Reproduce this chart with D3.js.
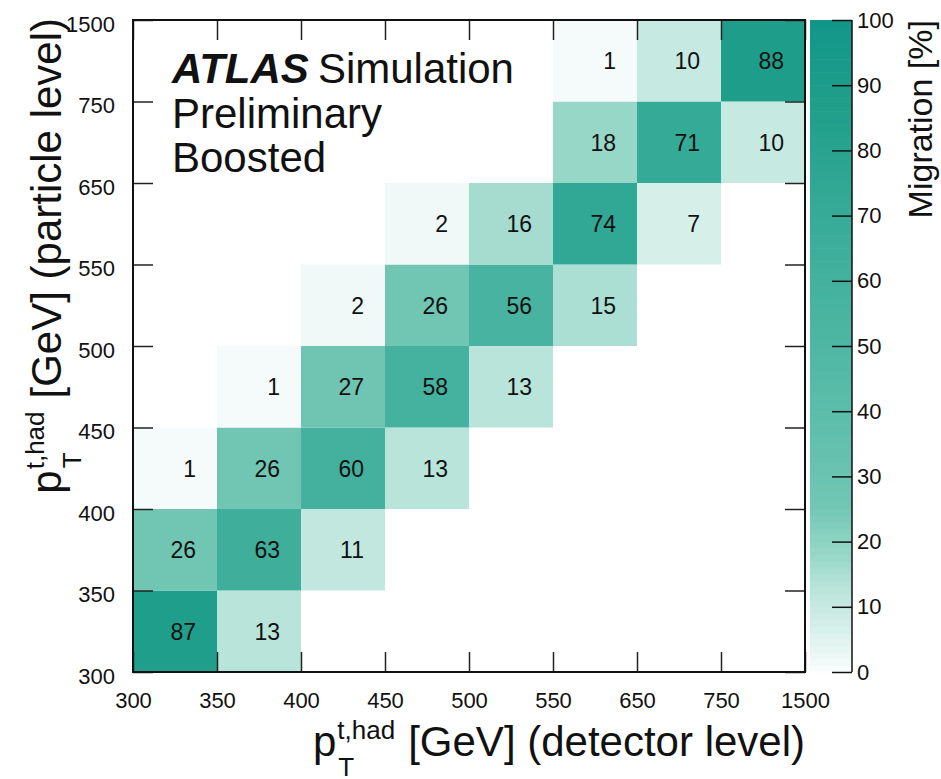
<!DOCTYPE html>
<html>
<head>
<meta charset="utf-8">
<script src="https://cdn.jsdelivr.net/npm/d3@7"></script>
<style>
  html, body { margin: 0; padding: 0; background: #fff; }
  svg { display: block; font-family: "Liberation Sans", Arial, Helvetica, sans-serif; }
</style>
</head>
<body>
<svg id="chart" width="941" height="779"></svg>
<script>
// Bin edges (GeV) for detector level (x) and particle level (y)
const detectorEdges = ["300", "350", "400", "450", "500", "550", "650", "750", "1500"];
const particleEdges = ["300", "350", "400", "450", "500", "550", "650", "750", "1500"];

// Migration matrix [%]: one array per particle-level bin (bottom to top),
// entries indexed by detector-level bin; null = empty cell
const row300_350  = [87, 13, null, null, null, null, null, null];
const row350_400  = [26, 63, 11, null, null, null, null, null];
const row400_450  = [1, 26, 60, 13, null, null, null, null];
const row450_500  = [null, 1, 27, 58, 13, null, null, null];
const row500_550  = [null, null, 2, 26, 56, 15, null, null];
const row550_650  = [null, null, null, 2, 16, 74, 7, null];
const row650_750  = [null, null, null, null, null, 18, 71, 10];
const row750_1500 = [null, null, null, null, null, 1, 10, 88];
const migrationRows = [row300_350, row350_400, row400_450, row450_500,
                       row500_550, row550_650, row650_750, row750_1500];

// Colour-bar ticks
const zTicks = [0, 10, 20, 30, 40, 50, 60, 70, 80, 90, 100];

// Palette anchor points (value -> colour)
const paletteValues = [0, 1, 10, 13, 18, 26, 40, 60, 71, 88, 100];
const paletteColors = ["#fbfefd", "#f5fbfa", "#c6e9e1", "#b9e4da", "#97d7c8", "#70c6b3",
                       "#5bbdaa", "#43b19e", "#35aa97", "#1e9e8a", "#13968a"];

const svg = d3.select("#chart");
const FONT = '"Liberation Sans", Arial, Helvetica, sans-serif';

const plot = { left: 133, right: 805, top: 20, bottom: 672 };
const nx = detectorEdges.length - 1;
const ny = particleEdges.length - 1;

const x = d3.scaleLinear().domain([0, nx]).range([plot.left, plot.right]);
const y = d3.scaleLinear().domain([0, ny]).range([plot.bottom, plot.top]);
const color = d3.scaleLinear().domain(paletteValues).range(paletteColors)
  .interpolate(d3.interpolateRgb).clamp(true);

// Flatten matrix into cells
const cells = [];
migrationRows.forEach((row, j) => row.forEach((v, i) => {
  if (v !== null) cells.push({ i, j, v });
}));

// Heat-map cells
svg.append("g").selectAll("rect").data(cells).join("rect")
  .attr("x", d => x(d.i))
  .attr("y", d => y(d.j + 1))
  .attr("width", d => x(d.i + 1) - x(d.i))
  .attr("height", d => y(d.j) - y(d.j + 1))
  .attr("fill", d => color(d.v));

// Cell values
svg.append("g").selectAll("text").data(cells).join("text")
  .attr("x", d => (x(d.i) + x(d.i + 1)) / 2 + 21)
  .attr("y", d => (y(d.j) + y(d.j + 1)) / 2)
  .attr("dy", "0.36em")
  .attr("text-anchor", "end")
  .attr("font-size", 23)
  .attr("fill", "#111")
  .text(d => d.v);

// Axes with inward ticks on all four sides
const tickIdx = d3.range(nx + 1);
function styleAxis(g) {
  g.select(".domain").remove();
  g.selectAll(".tick line").attr("stroke", "#222").attr("stroke-width", 1.5);
  g.selectAll(".tick text").attr("font-family", FONT).attr("font-size", 22).attr("fill", "#111");
}
svg.append("g").attr("transform", `translate(0,${plot.bottom})`)
  .call(d3.axisBottom(x).tickValues(tickIdx).tickFormat(i => detectorEdges[i])
    .tickSize(-20).tickPadding(20))
  .call(styleAxis);
svg.append("g").attr("transform", `translate(0,${plot.top})`)
  .call(d3.axisTop(x).tickValues(tickIdx).tickFormat("").tickSize(-20))
  .call(styleAxis);
svg.append("g").attr("transform", `translate(${plot.left},0)`)
  .call(d3.axisLeft(y).tickValues(tickIdx).tickFormat(i => particleEdges[i])
    .tickSize(-20).tickPadding(18))
  .call(styleAxis)
  .call(g => g.selectAll(".tick text").attr("dy", "0.52em"));
svg.append("g").attr("transform", `translate(${plot.right},0)`)
  .call(d3.axisRight(y).tickValues(tickIdx).tickFormat("").tickSize(-20))
  .call(styleAxis);

// Frame
svg.append("rect")
  .attr("x", plot.left).attr("y", plot.top)
  .attr("width", plot.right - plot.left).attr("height", plot.bottom - plot.top)
  .attr("fill", "none").attr("stroke", "#111").attr("stroke-width", 2);

// Colour bar
const bar = { left: 810, right: 852 };
const z = d3.scaleLinear().domain([0, 100]).range([plot.bottom, plot.top]);
svg.append("g").selectAll("rect").data(d3.range(0, 100)).join("rect")
  .attr("x", bar.left)
  .attr("width", bar.right - bar.left)
  .attr("y", d => z(d + 1))
  .attr("height", d => z(d) - z(d + 1) + 0.6)
  .attr("fill", d => color(d + 0.5));
svg.append("g").attr("transform", `translate(${bar.right},0)`)
  .call(d3.axisRight(z).tickValues(zTicks).tickSize(-20).tickPadding(6))
  .call(g => {
    g.select(".domain").attr("d", `M0,${plot.top}V${plot.bottom}`)
      .attr("stroke", "#111").attr("stroke-width", 1.5);
    g.selectAll(".tick line").attr("stroke", "#111").attr("stroke-width", 1.5);
    g.selectAll(".tick text").attr("font-family", FONT).attr("font-size", 22)
      .attr("fill", "#111").attr("x", 5);
  });
svg.append("text")
  .attr("transform", `translate(932,${plot.top}) rotate(-90)`)
  .attr("text-anchor", "end")
  .attr("font-size", 34)
  .attr("fill", "#111")
  .text("Migration [%]");

// Axis title built from p, stacked super/subscripts and the remaining text
function axisTitle(parent, tail) {
  const g = parent.append("g").attr("fill", "#111");
  const p = g.append("text").attr("font-size", 42).text("p");
  const pw = p.node().getComputedTextLength();
  const sup = g.append("text").attr("x", pw + 1).attr("y", -17).attr("font-size", 26).text("t,had");
  const sub = g.append("text").attr("x", pw + 2).attr("y", 20).attr("font-size", 26).text("T");
  const sw = Math.max(sup.node().getComputedTextLength(), sub.node().getComputedTextLength());
  const mainX = pw + 1 + sw + 13;
  const main = g.append("text").attr("x", mainX).attr("font-size", 42).text(tail);
  const total = mainX + main.node().getComputedTextLength();
  return { g, total };
}
const xt = axisTitle(svg, "[GeV] (detector level)");
xt.g.attr("transform", `translate(${plot.right - xt.total},756)`);
const yt = axisTitle(svg, "[GeV] (particle level)");
yt.g.attr("transform", `translate(61,${18 + yt.total}) rotate(-90)`);

// Experiment label
const label = svg.append("g").attr("fill", "#111").attr("font-size", 42);
const atlas = label.append("text").attr("x", 172).attr("y", 83)
  .attr("font-weight", "bold").attr("font-style", "italic").text("ATLAS");
label.append("text").attr("x", 172 + atlas.node().getComputedTextLength() + 9).attr("y", 83)
  .text("Simulation");
label.append("text").attr("x", 172).attr("y", 128).text("Preliminary");
label.append("text").attr("x", 172).attr("y", 172).text("Boosted");
</script>
</body>
</html>
